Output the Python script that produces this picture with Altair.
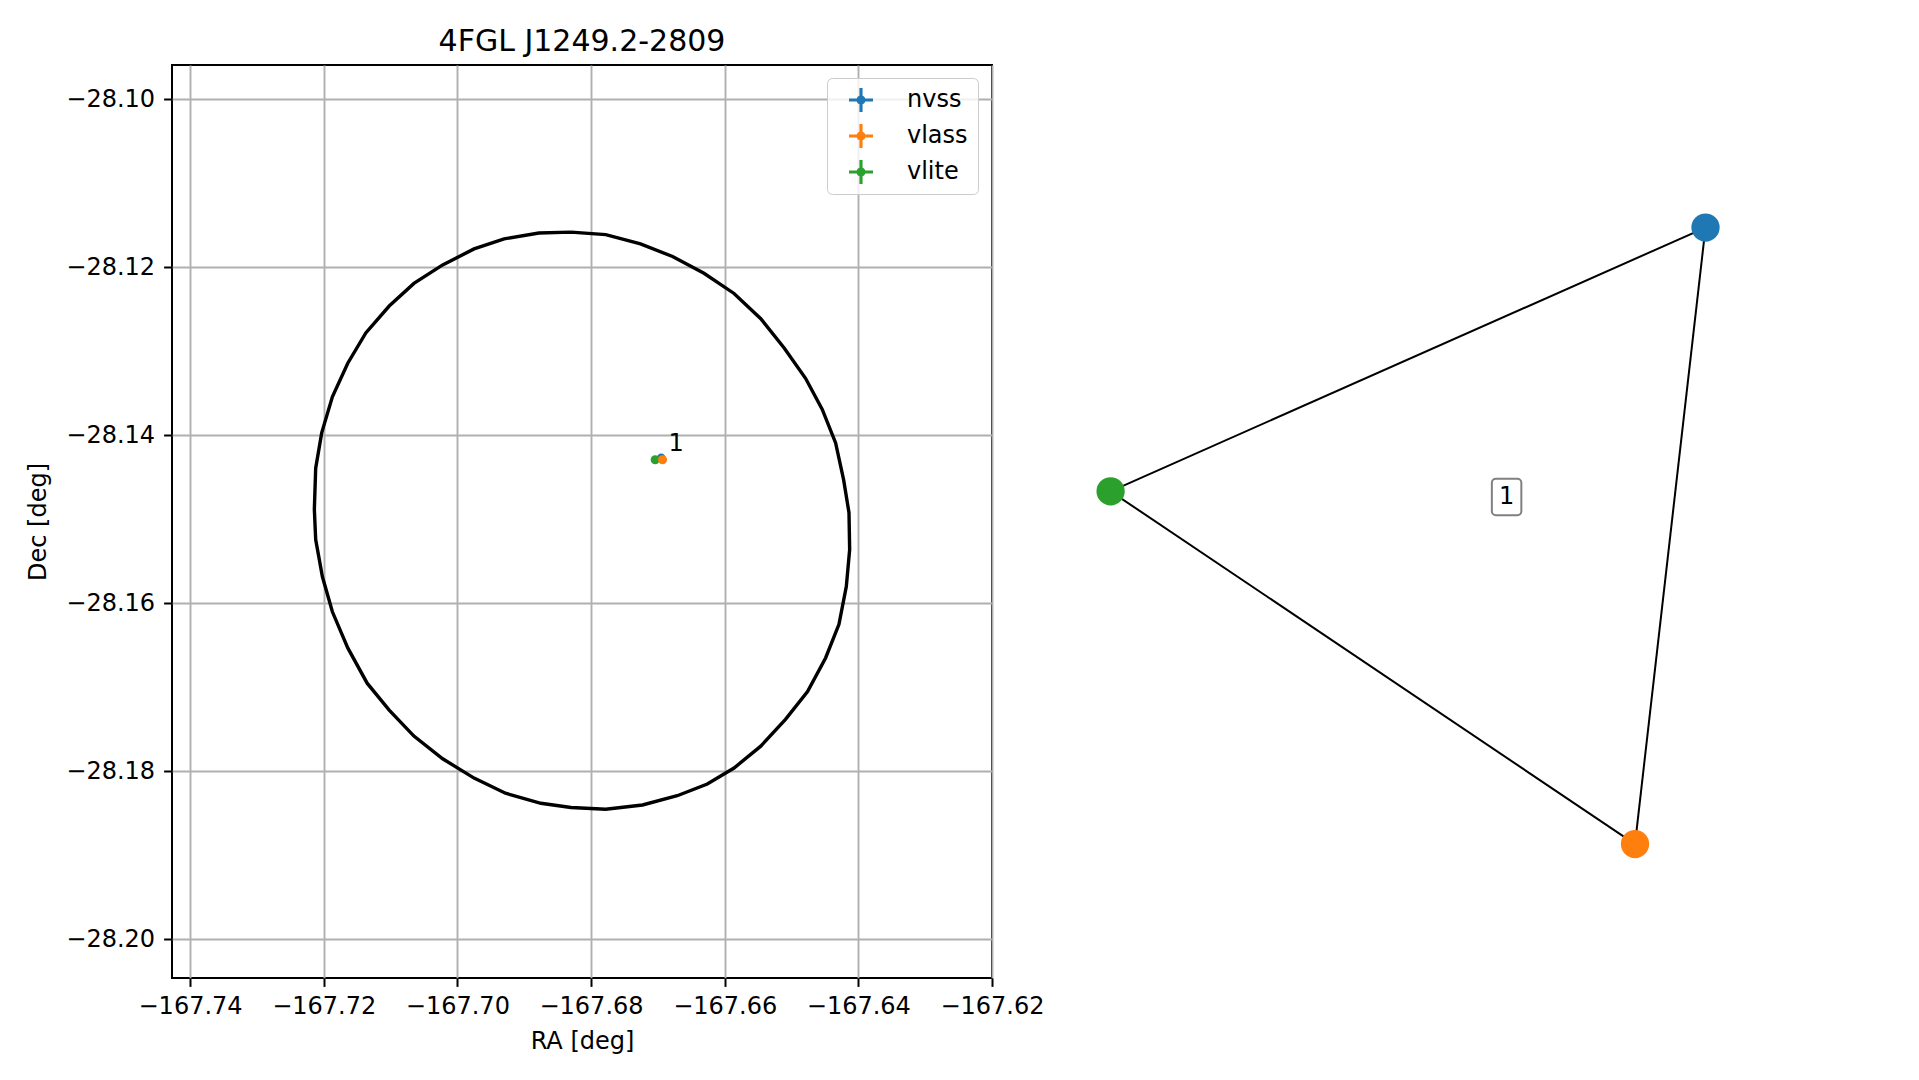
import altair as alt
import pandas as pd

FONT = "DejaVu Sans"

# ---------------- left panel data ----------------
TITLE = "4FGL J1249.2-2809"

# error ellipse vertices (RA, Dec)
ell_ra = [-167.6830, -167.6778, -167.6726, -167.6678, -167.6631, -167.6586, -167.6546,
          -167.6511, -167.6479, -167.6454, -167.6434, -167.6422, -167.6414, -167.6413,
          -167.6418, -167.6429, -167.6449, -167.6476, -167.6509, -167.6546, -167.6586,
          -167.6626, -167.6671, -167.6723, -167.6778, -167.6830, -167.6875, -167.6928,
          -167.6975, -167.7022, -167.7065, -167.7102, -167.7135, -167.7164, -167.7187,
          -167.7202, -167.7212, -167.7214, -167.7212, -167.7203, -167.7187, -167.7164,
          -167.7137, -167.7102, -167.7065, -167.7022, -167.6975, -167.6930, -167.6878,
          -167.6830]
ell_dec = [-28.1158, -28.1161, -28.1172, -28.1187, -28.1207, -28.1231, -28.1261,
           -28.1296, -28.1332, -28.1369, -28.1409, -28.1453, -28.1492, -28.1536,
           -28.1580, -28.1625, -28.1665, -28.1705, -28.1738, -28.1770, -28.1796,
           -28.1815, -28.1829, -28.1840, -28.1845, -28.1843, -28.1838, -28.1826,
           -28.1808, -28.1785, -28.1758, -28.1727, -28.1695, -28.1653, -28.1610,
           -28.1568, -28.1524, -28.1488, -28.1439, -28.1397, -28.1354, -28.1314,
           -28.1278, -28.1246, -28.1219, -28.1197, -28.1178, -28.1166, -28.1159,
           -28.1158]

surveys = ["nvss", "vlass", "vlite"]
colors = ["#1f77b4", "#ff7f0e", "#2ca02c"]
src_ra = [-167.6695, -167.6693, -167.6704]
src_dec = [-28.1427, -28.1429, -28.1429]
draw_order = [0, 2, 1]  # nvss first, then vlite, vlass on top

src_label = ["1"]
src_label_ra = [-167.6684]
src_label_dec = [-28.1418]

x_ticks = [-167.74, -167.72, -167.70, -167.68, -167.66, -167.64, -167.62]
y_ticks = [-28.20, -28.18, -28.16, -28.14, -28.12, -28.10]
x_domain = [-167.7427, -167.62]
y_domain = [-28.2046, -28.0959]

# ---------------- right panel data (graph layout) ----------------
node_x = [1.015, 0.780, -0.968]
node_y = [1.028, -1.027, 0.149]
edge_pairs = [("nvss", "vlass"), ("nvss", "vlite"), ("vlass", "vlite")]
group_label = ["1"]
group_x = [0.352]
group_y = [0.130]

# ---------------- tables ----------------
ell_df = pd.DataFrame({"i": list(range(len(ell_ra))), "ra": ell_ra, "dec": ell_dec})
src_df = pd.DataFrame({
    "survey": [surveys[k] for k in draw_order],
    "ra": [src_ra[k] for k in draw_order],
    "dec": [src_dec[k] for k in draw_order],
})
lab_df = pd.DataFrame({"t": src_label, "ra": src_label_ra, "dec": src_label_dec})

pos = {s: (node_x[k], node_y[k]) for k, s in enumerate(surveys)}
edge_df = pd.DataFrame({
    "x1": [pos[a][0] for a, b in edge_pairs],
    "y1": [pos[a][1] for a, b in edge_pairs],
    "x2": [pos[b][0] for a, b in edge_pairs],
    "y2": [pos[b][1] for a, b in edge_pairs],
})
node_df = pd.DataFrame({"survey": surveys, "x": node_x, "y": node_y, "c": colors})
glab_df = pd.DataFrame({"t": group_label, "x": group_x, "y": group_y})

# ---------------- left panel ----------------
xs = alt.Scale(domain=x_domain, nice=False, zero=False)
ys = alt.Scale(domain=y_domain, nice=False, zero=False)

x_axis = alt.Axis(values=x_ticks, format=".2f", title="RA [deg]", grid=True,
                  gridColor="#b0b0b0", gridWidth=1.9, domain=False,
                  tickColor="black", tickWidth=2, tickSize=8.4, labelPadding=8.5,
                  labelFont=FONT, labelFontSize=24, labelColor="black",
                  titleFont=FONT, titleFontSize=24, titleFontWeight="normal",
                  titleColor="black", titlePadding=11, labelFlush=False)
y_axis = alt.Axis(values=y_ticks, format=".2f", title="Dec [deg]", grid=True,
                  gridColor="#b0b0b0", gridWidth=1.9, domain=False,
                  tickColor="black", tickWidth=2, tickSize=8.4, labelPadding=9,
                  labelFont=FONT, labelFontSize=24, labelColor="black",
                  titleFont=FONT, titleFontSize=24, titleFontWeight="normal",
                  titleColor="black", titlePadding=15, labelFlush=False)

CROSS = ("M-1,-0.13H1V0.13H-1Z M-0.13,-1H0.13V1H-0.13Z "
         "M0.38,0A0.38,0.38,0,1,1,-0.38,0A0.38,0.38,0,1,1,0.38,0Z")

ellipse = alt.Chart(ell_df).mark_line(color="black", strokeWidth=3.4, clip=True).encode(
    x=alt.X("ra:Q", scale=xs, axis=x_axis),
    y=alt.Y("dec:Q", scale=ys, axis=y_axis),
    order="i:Q",
)

points = alt.Chart(src_df).mark_circle(size=82, opacity=1).encode(
    x=alt.X("ra:Q", scale=xs),
    y=alt.Y("dec:Q", scale=ys),
    color=alt.Color("survey:N",
                    scale=alt.Scale(domain=surveys, range=colors),
                    legend=alt.Legend(title=None, orient="none", legendX=655, legendY=13,
                                      symbolType=CROSS, symbolSize=576,
                                      symbolStrokeWidth=0, symbolOffset=12,
                                      labelFont=FONT, labelFontSize=24,
                                      labelColor="black", labelOffset=34,
                                      rowPadding=12, padding=10,
                                      fillColor="rgba(255,255,255,0.8)",
                                      strokeColor="#cccccc", cornerRadius=5)),
)

src_text = alt.Chart(lab_df).mark_text(font=FONT, fontSize=24, color="black",
                                       align="left", baseline="alphabetic").encode(
    x=alt.X("ra:Q", scale=xs),
    y=alt.Y("dec:Q", scale=ys),
    text="t:N",
)

left = alt.layer(ellipse, points, src_text).properties(
    width=820, height=913,
    title=alt.TitleParams(TITLE, font=FONT, fontSize=30, fontWeight="normal",
                          color="black", anchor="middle", frame="group", offset=8),
    view=alt.ViewBackground(stroke="black", strokeWidth=2),
)

# ---------------- right panel ----------------
rxs = alt.Scale(domain=[-1.15, 1.2], nice=False, zero=False)
rys = alt.Scale(domain=[-1.47, 1.57], nice=False, zero=False)

edges = alt.Chart(edge_df).mark_rule(color="black", strokeWidth=2).encode(
    x=alt.X("x1:Q", scale=rxs, axis=None),
    y=alt.Y("y1:Q", scale=rys, axis=None),
    x2="x2:Q",
    y2="y2:Q",
)

nodes = alt.Chart(node_df).mark_circle(size=800, opacity=1).encode(
    x=alt.X("x:Q", scale=rxs, axis=None),
    y=alt.Y("y:Q", scale=rys, axis=None),
    color=alt.Color("c:N", scale=None),
)

BOX = ("M-0.59,-1H0.59A0.22,0.22,0,0,1,0.81,-0.78V0.78A0.22,0.22,0,0,1,0.59,1"
       "H-0.59A0.22,0.22,0,0,1,-0.81,0.78V-0.78A0.22,0.22,0,0,1,-0.59,-1Z")

gbox = alt.Chart(glab_df).mark_point(shape=BOX, size=1325, filled=True, fill="white",
                                     stroke="#808080", strokeWidth=2, opacity=1).encode(
    x=alt.X("x:Q", scale=rxs, axis=None),
    y=alt.Y("y:Q", scale=rys, axis=None),
)
gtext = alt.Chart(glab_df).mark_text(font=FONT, fontSize=24, color="black",
                                     align="center", baseline="middle").encode(
    x=alt.X("x:Q", scale=rxs, axis=None),
    y=alt.Y("y:Q", scale=rys, axis=None),
    text="t:N",
)

right = alt.layer(edges, nodes, gbox, gtext).properties(
    width=705, height=912,
    view=alt.ViewBackground(stroke="transparent", strokeWidth=0),
)

chart = alt.hconcat(left, right, spacing=64, bounds="flush").properties(
    padding={"left": 17, "top": 18, "right": 5, "bottom": 5}
).configure_view(stroke="transparent", strokeWidth=0).configure(background="white")

chart.save("out.html", embed_options={"renderer": "svg", "actions": False})
